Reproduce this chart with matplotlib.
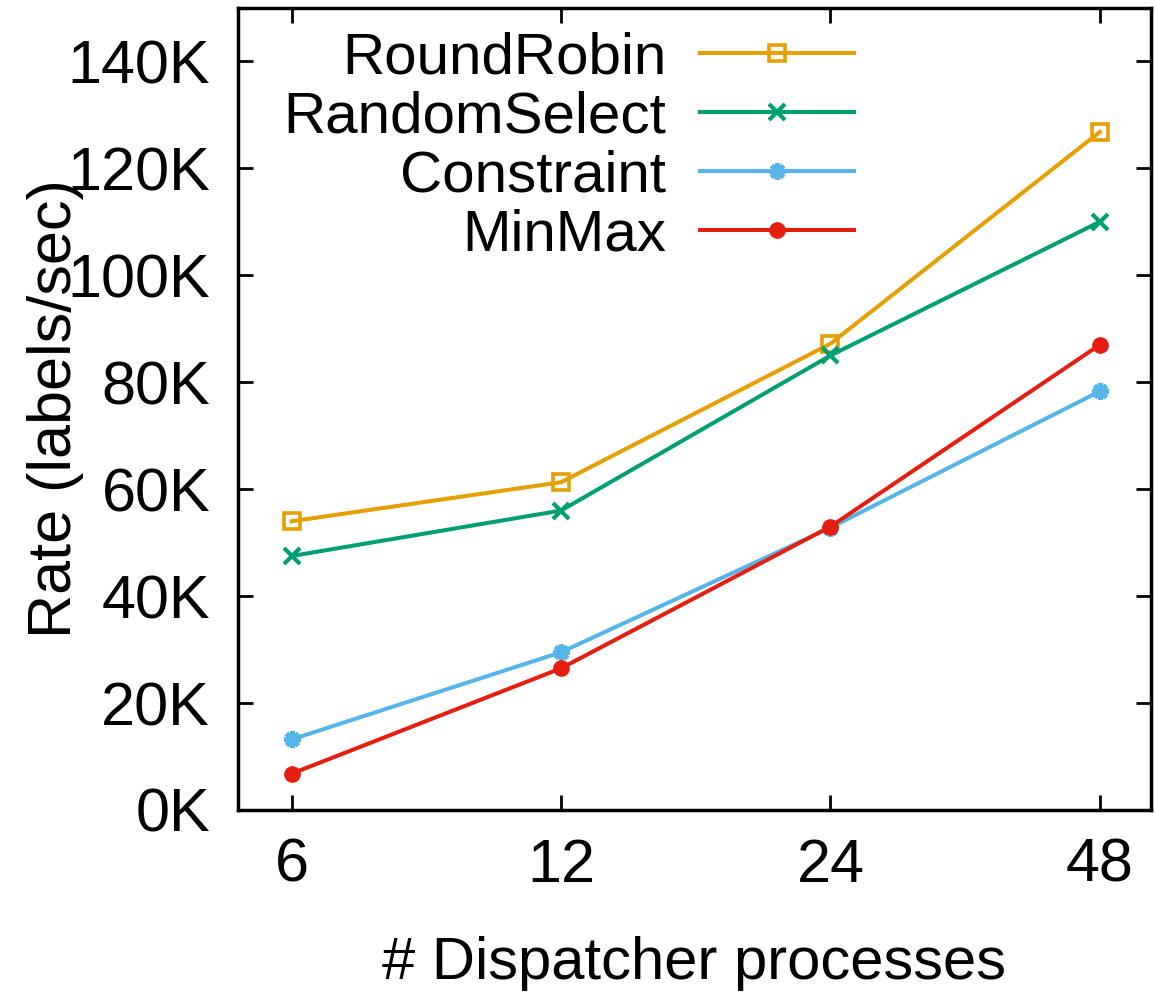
import matplotlib
matplotlib.use("Agg")
import matplotlib.pyplot as plt
from matplotlib.ticker import FuncFormatter

plt.rcParams['font.family'] = ['Liberation Sans', 'DejaVu Sans']

# datos
procesos = ["6", "12", "24", "48"]
round_robin = [54.0, 61.3, 87.2, 126.8]
random_select = [47.5, 56.0, 85.0, 110.0]
constraint = [13.2, 29.5, 52.8, 78.3]
min_max = [6.8, 26.5, 53.0, 87.0]

fig = plt.figure(figsize=(11.55, 9.92), dpi=100)
ax = fig.add_axes([0.206, 0.1835, 0.7905, 0.8085])

x = list(range(len(procesos)))
lw = 2.9
ax.plot(x, round_robin, color='#E69F00', lw=lw, marker='s', ms=11, mfc='none', mew=2.6, label='RoundRobin')
ax.plot(x, random_select, color='#009E73', lw=lw, marker='x', ms=11, mew=3, label='RandomSelect')
ax.plot(x, constraint, color='#56B4E9', lw=lw, marker=(8, 2, 0), ms=12, mew=3.5, label='Constraint')
ax.plot(x, min_max, color='#E51E10', lw=lw, marker='o', ms=11, label='MinMax')

ax.set_xlim(-0.2, 3.19)
ax.set_ylim(0, 150)
ax.set_xticks(x)
ax.set_xticklabels(procesos)
ax.set_yticks(range(0, 141, 20))
ax.yaxis.set_major_formatter(FuncFormatter(lambda v, p: "%dK" % v))

ax.tick_params(direction='in', length=11, width=2, labelsize=44, top=True, right=True, pad=20)
ax.tick_params(axis='x', pad=20)
for s in ax.spines.values():
    s.set_linewidth(2.5)

ax.set_xlabel("# Dispatcher processes", fontsize=43, labelpad=30)
ax.set_ylabel("Rate (labels/sec)", fontsize=44, labelpad=-12)

ax.legend(loc='upper right', bbox_to_anchor=(0.72, 1.022), frameon=False, markerfirst=False,
          fontsize=42, handlelength=2.65, handletextpad=0.58, labelspacing=0.09, borderpad=0.2)

fig.savefig("out.png", dpi=100)
